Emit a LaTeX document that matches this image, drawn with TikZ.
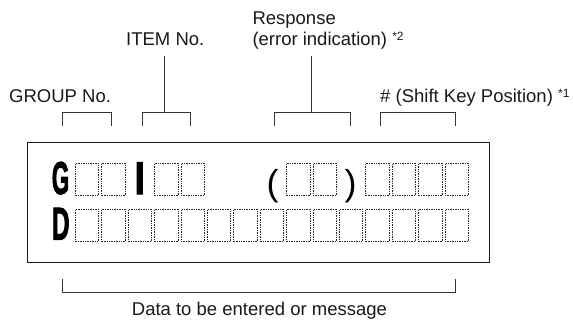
\documentclass[tikz,border=0pt]{standalone}
\usepackage{fontspec}
\setmainfont{Liberation Sans}
\newfontfamily\lcdfont[FakeBold=2.5]{Liberation Sans Bold}
\tikzset{
  lbl/.style={anchor=base west, inner sep=0pt, text=black!90, font=\fontsize{18.5}{21}\selectfont},
  cell/.style={draw=black!85, dash pattern=on 1.4pt off 1pt, line width=0.6pt,
    minimum width=23.4pt, minimum height=32pt, inner sep=0pt},
  lcd/.style={anchor=base, inner sep=0pt, font=\lcdfont\fontsize{46}{46}\selectfont},
  paren/.style={anchor=base, inner sep=0pt, font=\fontsize{36}{36}\selectfont},
  brk/.style={draw=black!80, line width=0.8pt},
  frame/.style={draw=black!90, line width=1.5pt, inner sep=0pt}
}
\newcommand{\supmark}[1]{{\fontsize{12}{12}\selectfont\raisebox{5pt}{#1}}}
\begin{document}
\begin{tikzpicture}[x=1pt,y=-1pt]
\useasboundingbox (0,0) rectangle (573,322);
% panel
\node[frame, minimum width=461.6pt, minimum height=120pt] (panel) at (258.5,202.7) {};
% cells
\foreach \c in {0,1,3,4,8,9,11,12,13,14}
  \node[cell] (t\c) at ({87+\c*26.4},179.3) {};
\foreach \c in {0,...,14}
  \node[cell] (b\c) at ({87+\c*26.4},225.3) {};
% letters
\node[lcd] (gl) at (60.6,194) {\scalebox{0.49}[1]{G}};
\node[lcd] (il) at (139.8,194) {\scalebox{0.8}[1]{I}};
\node[lcd] (dl) at (60.8,239.5) {\scalebox{0.53}[1]{D}};
\node[paren] (lp) at (272.5,195) {(};
\node[paren] (rp) at (350.5,195) {)};
% labels
\node[lbl] (group) at (9,102.6) {GROUP No.};
\node[lbl] (item) at (126,45.7) {ITEM No.};
\node[lbl] (resp) at (252.3,24) {Response};
\node[lbl] (err) at (252.3,45.7) {(error indication) \supmark{*2}};
\node[lbl] (shift) at (380,102.8) {\# (Shift Key Position) \supmark{*1}};
\node[lbl] (data) at (131.7,315.5) {Data to be entered or message};
% bracket coordinates
\coordinate (g1) at (62.5,125.7); \coordinate (g2) at (111,125.7);
\coordinate (i1) at (142.5,125.7); \coordinate (i2) at (190.5,125.7);
\coordinate (r1) at (274.8,125.7); \coordinate (r2) at (350.5,125.7);
\coordinate (s1) at (380.8,125.7); \coordinate (s2) at (455.5,125.7);
\coordinate (itop) at (164.7,55.7); \coordinate (imid) at (164.7,112.7);
\coordinate (rtop) at (311.5,55.7); \coordinate (rmid) at (311.5,112.7);
\coordinate (d1) at (62.7,279.3); \coordinate (d2) at (455.3,279.3);
\coordinate (dbase) at (62.7,292.3);
% brackets
\draw[brk] (g1) |- (g2 |- imid) -- (g2);
\draw[brk] (i1) |- (i2 |- imid) -- (i2);
\draw[brk] (r1) |- (r2 |- rmid) -- (r2);
\draw[brk] (s1) |- (s2 |- imid) -- (s2);
\draw[brk] (itop) -- (imid);
\draw[brk] (rtop) -- (rmid);
\draw[brk] (d1) -- (dbase) -| (d2);
\end{tikzpicture}
\end{document}
